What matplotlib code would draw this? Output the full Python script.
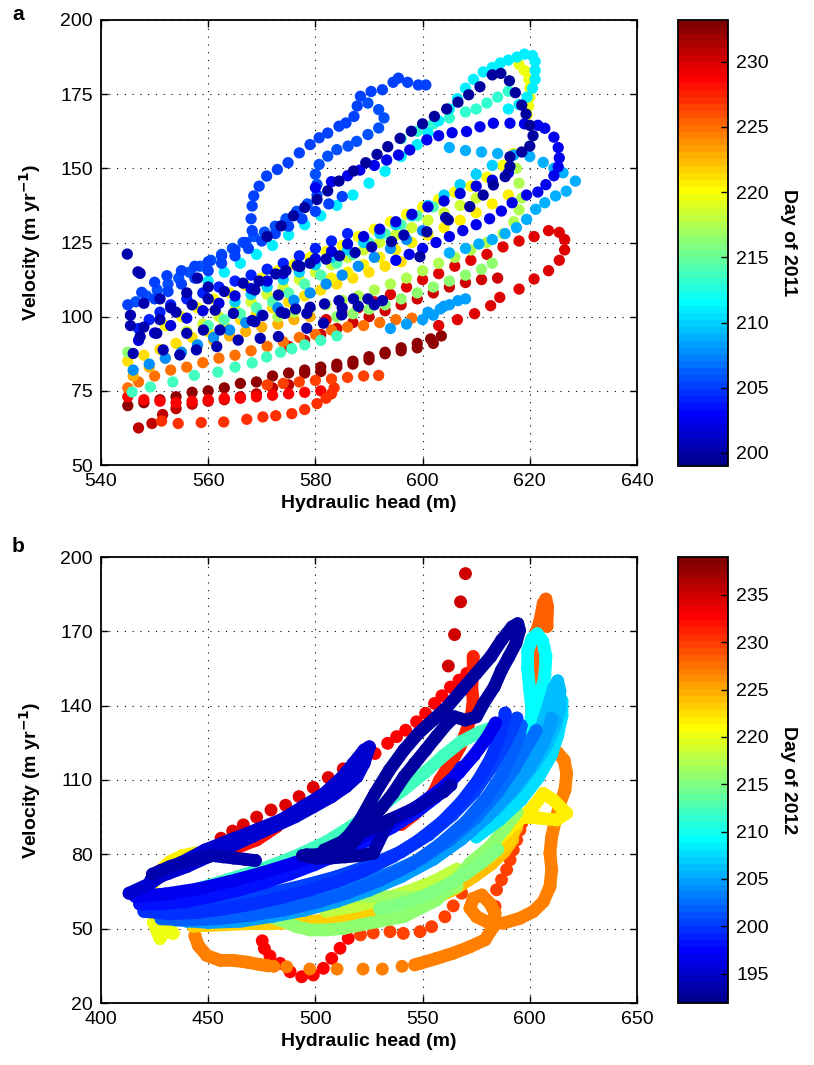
import matplotlib
matplotlib.use('Agg')
import matplotlib.pyplot as plt
import numpy as np
from matplotlib.colors import ListedColormap, Normalize
from matplotlib.cm import ScalarMappable

plt.rcParams['font.family'] = ['Liberation Sans', 'DejaVu Sans']

# ---------------- Panel a (2011) ----------------
a_xticks = [540, 560, 580, 600, 620, 640]
a_yticks = [50, 75, 100, 125, 150, 175, 200]
a_cticks = [200, 205, 210, 215, 220, 225, 230]
a_clim = (199.0, 233.2)

a_darkred = [(545,70),(548,71),(551,72),(554,73),(557,74.5),(560,75),(563,76),(566,77.5),(569,78),(572,80),
             (575,81),(578,82),(581,83),(584,84),(587,85),(590,86.5),(593,88),(596,89.5),(599,91),(601.5,92.5),
             (603.5,93.5),(602,91),(599,89.5),(596,88.5),(593,87.5),(590,85.5),(587,84),(584,83),(581,81.5),(578,81)]
a_red_low = [(547,62.5),(549.5,64),(551.5,67),(554,69),(557,70.5),(560,71.5),(563,72),(566,73),(569,74),(572,76),(575,77)]
a_orange_row = [(551.3,64.8),(554.4,64),(558.7,64.3),(562.9,64.5),(567.2,65.4),(570.2,66.2),(572.6,66.6),(575.6,67.3),
                (578,68.7),(580.3,70.7),(582,72.5),(583,74),(583.5,76)]
a_orange_back = [(591.8,80.2),(589,80),(586,79.5),(583,79),(580,78.5),(577,78),(574,77.5),(571,77)]
a_redorange = [(545,73),(548,72),(551,71.5),(554,71),(557,71.5),(560,72),(563,72.5),(566,72.5),(569,73),(572,73.5),
               (575,74),(578,74.5),(581,75)]
a_orange_band = [(545,76),(547,78),(550,80),(553,82),(556,83),(559,84.5),(562,86),(565,87),(568,88.5),(571,90),(574,91.5),
                 (577,93),(580,94),(583,95.5),(586,96.5),(589,97),(592,98),(595,99),(598,99.5)]
a_yorange = [(546,80),(549,83),(552,86),(555,88),(558,90),(561,92),(564,93.5),(567,95),(570,96.5),(573,97.5),(576,99),(579,100)]
a_yellow1 = [(552,97),(555,100),(558,103),(561,106),(564,108),(567,110.5),(570,113),(573,115.5),(576,117.5),(579,120),
             (582,122),(585,124),(588,127),(591,129.5),(594,132),(597,134.5),(600,137),(603,139.5),(606,142),(609,144),
             (612,147),(615,151),(617,155)]
a_yellow2 = [(619.5,168),(619.8,171),(620,174),(620,177),(619.8,180),(619,183),(618,185)]
a_yellow3 = [(545,85),(548,87),(551,89),(554,91),(557,93),(560,95),(563,97),(566,99),(569,101),(572,103),(575,105),
             (578,107),(581,109),(584,111),(587,113),(590,115),(593,117),(596,118.5)]
a_yellow4 = [(583,113),(586,115),(589,117.5),(592,120),(595,122.5),(598,125),(601,127.5),(604,130),(607,132.5),(610,135),
             (613,138),(616,141)]
a_ygreen = [(556,95),(559,97.5),(562,100),(565,102.5),(568,105),(571,107.5),(574,110),(577,112.5),(580,115),(583,117.5),
            (586,120),(589,122.5),(592,125),(595,127.5),(598,130),(601,132.5),(604,135),(607,137.5),(610,140)]
a_green1 = [(573,100),(576,101.5),(579,103),(582,104),(585,105.5),(588,107),(591,109),(594,111),(597,113),(600,115.5),
            (603,118),(606,120),(609,122.5),(612,125),(615,128),(617,132),(618,136),(618.5,140),(618,145),(617.5,150)]
a_green2 = [(545,88),(584,100),(587,101),(590,102.5),(593,104),(596,106),(599,108),(602,110),(605,112),(608,114),(611,116),(613,118)]
a_aqua1 = [(545.8,74.6),(549.2,76.3),(553.4,78),(557.4,80.2),(561.8,81.3),(565,83),(568.2,84.4),(570.9,86.4),(573.5,88),
           (575.6,89.2),(578,90.5),(581,92),(584,93.5)]
a_aqua2 = [(560,97),(563,99),(566,101),(569,103),(572,105),(575,108),(578,111),(581,114),(584,118),(587,121),(590,125),
           (593,128),(596,131),(599,134),(602,137)]
a_aqua3 = [(596,160),(599,162.5),(602,165),(605,167),(608,169),(610,170),(612,172),(614,174),(616,176)]
a_cyan = [(560,112),(563,115),(566,118),(569,121),(572,124),(575,127.5),(578,131),(581,134),(584,137.5),(587,141),(590,145),
          (593,149),(596,154),(599,158),(601,162),(603,166),(605,170),(606.5,173.5),(608,177),(609.5,180),(611.3,182.5),
          (613,184),(614.5,185.5),(616,186.5),(617.6,187.5),(619,188.5),(620.5,188),(621,186),(621,183),(621,180),
          (620.5,177),(619.5,174),(618,171.5),(616,170)]
a_cyan_mid = [(565,105),(568,107.5),(571,110),(574,112.5),(577,115),(580,117.5),(583,120),(586,122.5),(589,125),(592,128),
              (595,131),(598,134),(601,137.5),(604,141),(607,144.5),(610,148),(613,151)]
a_lblue1 = [(605,157),(608,156),(611,155.5),(614,155),(617,154.5),(620,154),(622.5,152),(624.5,150),(626.2,148.5),
            (628.5,145.7),(626.8,142.3),(624.8,140.7),(622.8,138.4),(621.1,136.2),(619.4,132.8),(617.5,130),(615.4,128),
            (613,126),(610.5,124.5),(608,123),(605,121.5)]
a_lblue2 = [(594,96),(597,97.5),(600,99),(602,100.5),(603.3,102.6),(605,104),(606.6,105.4),(608,106),(604,103.5),(601,101.5)]
a_lblue3 = [(546,82),(549,84),(552,86),(555,88),(558,90.5),(561,93),(564,95.5),(567,98),(570,100.5),(573,103),(576,105.5),
            (579,108),(582,111),(585,114),(588,117),(591,120),(594,123),(597,126),(600,129)]
a_blue_loop = [(580,143.5),(583,145.5),(586,147.5),(588.3,149.4),(591,151),(593.3,152.8),(595.5,154.5),(597.6,156.2),
               (600.8,159.6),(603,161),(605.5,162),(608.2,162.4),(610.7,164),(613.2,165.2),(616.3,165.2),(619,165),
               (621.5,164.5),(622.8,163.5),(624.5,160.5),(625.3,157),(625.5,153.5),(625.3,150.5),(624.5,147.5),(623,144.5),
               (621.5,142),(619.4,141),(616.7,138.4),(614.7,135.6),(612.5,133),(610,131),(607.5,129),(605,127),(602.5,125),
               (600,123),(597.5,121),(595,119)]
a_blue_row = [(547,92),(550,94.5),(553,97),(556,99.5),(559,102),(562,104.5),(565,107),(568,109.5),(571,112),(574,114.5),
              (577,117),(580,119.5),(583,122),(586,124.5),(589,127),(592,129.5),(595,132),(598,134.5),(601,137),(604,139),
              (607,141.5),(610,144),(613,146),(616,148.5)]
a_mblue_outer = [(545,104),(547.6,108.2),(550,111.6),(552.3,113.8),(555,115.5),(557.5,117),(560,118.5),(562.5,120.5),
                 (565,122.5),(567,125),(568.2,129),(568,133),(568.2,137.3),(568.5,140.7),(569.5,144),(570.9,147.4),
                 (572.9,149.6),(574.9,151.9),(577,155.2),(579,158),(580.7,160.3),(582.3,161.9),(584.4,164.2),(585.7,165.3),
                 (587.2,167.5),(587.8,171),(588.4,174.3),(590.4,175.9),(592.5,176.5),(594.5,179),(595.5,180.4),(597.2,179),
                 (599.2,178.1),(600.6,178.1)]
a_mblue_s = [(589.8,172),(591.8,169.8),(592.8,167),(591.8,163.6),(589.8,161.4),(587.7,159.1),(586.1,157.5),(584,156.3),
             (582.3,154.1),(580.7,151.3),(580,148),(580.3,144.6),(580.3,141),(578.5,138),(576.5,135.5),(574.5,133),
             (572.5,130.5),(570.5,128.5),(568.5,127),(566.5,125),(564.5,123),(562.5,121),(560.5,119),(558.5,117),
             (556.5,115),(554.5,113),(552.5,111),(550.5,109),(548.5,107),(546.5,105)]
a_mblue_par = [(550,106),(552.5,108.5),(555,111),(557.5,113),(560,115.5),(562.5,118),(565,120.5),(567.5,123),(570,125.5),
               (572.5,128),(575,130.5),(577.5,133),(580,135.5),(582.5,138),(585,140.5)]
a_mblue_band = [(547,96),(549,99),(551,101.5),(553,104),(556,106),(559,108),(562,110),(565,112),(568,114),(571,116),
                (574,118),(577,120.5),(580,123),(583,125.5),(586,128)]
a_navy_diag = [(571,127),(573.6,130.6),(575.9,134),(578,136.8),(580.3,139.5),(582.3,142.4),(584.4,145.7),(587.1,149.1),
               (589.4,151.9),(591.5,154.7),(593.5,157.3),(595.8,160.1),(597.9,162.5),(600,165),(602.2,167.5),(604.5,170),
               (606.6,172.3),(608.6,174.8),(610.7,177.5),(613,181.5),(614.6,182),(616.2,179.5),(617.3,175.5),(618.5,171.3),
               (619.3,168.3),(620,164.5),(620.6,161),(620,157.5),(618.5,155.5),(616.3,153.9),(616.3,150.6),(615.4,147.2),
               (613.2,144.4),(611.3,141),(608.8,137.1),(604.8,132.6),(600.8,128.6),(599.5,120.2),(594.2,125.3)]
a_navy_row = [(568.2,98.7),(570.2,100.4),(573.6,101.5),(576.3,102.6),(579,103.2),(581.7,104.3),(584.4,105.4),(587.1,106),
              (589.8,106),(592.5,105.4),(591,104),(588,103.5),(585,103)]
a_navy_sparse = [(604.3,133.4),(596.5,127.5),(590.5,123.5),(587.4,121.6),(584.5,120.5),(582,119.4),(579,118),(576.6,117.2),
                 (574.5,115.5),(572.6,114.4),(569.5,112),(563,108.5),(560,106),(557,104),(554,101.5),(551,99),(548,96.5)]
a_navy_cluster = [(547.3,114.6),(546,87.6),(547.3,93.3),(550.4,94.4),(551.6,88.8),(554.7,87.1),(556,94.4),(557.8,88.8),
                  (559.1,95.5),(561.3,102.2),(561.6,89.9),(562.2,95.5),(564.7,101.1),(565.6,92.1),(566.5,111.3),(568.7,109),
                  (569.7,92.7),(568.7,98.3),(573.1,93.3),(573.1,107.3),(574.3,101.1),(577.1,116.9),(578.4,101.1),
                  (578.4,96.1),(581.5,97.8),(584.9,100.6),(544.9,121.1),(546.9,115.1),(545.5,97),(545.5,100.5),
                  (548,104.5),(551,106),(553,103),(556,108),(558,113),(560,110)]
a_red_loop = [(582,99),(585,101),(588,103),(591,105),(594,107.5),(597,110),(600,112.5),(603,114.5),(606,117),(609,119),
              (612,121),(615,123.5),(618,125.5),(620.8,127),(623.5,129),(625.5,128.4),(626.5,126),(626.5,122.5),
              (625.5,119),(623.5,115.5),(620.8,112.7),(618,109.3),(614.4,106.5),(612.7,103.7),(609.7,101),(606.5,99),(603,97)]
a_red_band = [(575,90),(578,92),(581,94),(584,96),(587,98),(590,100),(593,102),(596,104),(599,106),(602,108),(605,110),
              (608,111.5),(611,112.5),(614,113)]

a_tracks = [
    (a_darkred, 232.5), (a_red_low, 231.0), (a_orange_row, 226.8), (a_orange_back, 226.5), (a_redorange, 228.5),
    (a_orange_band, 225.0), (a_yorange, 223.0), (a_yellow1, 220.0), (a_yellow2, 219.5), (a_yellow3, 221.0),
    (a_yellow4, 220.5), (a_ygreen, 218.5), (a_green1, 217.5), (a_green2, 216.5), (a_aqua1, 213.5), (a_aqua2, 214.0),
    (a_aqua3, 213.0), (a_cyan, 211.0), (a_cyan_mid, 210.0), (a_lblue1, 209.0), (a_lblue2, 208.5), (a_lblue3, 208.0),
    (a_blue_loop, 202.5), (a_blue_row, 202.0), (a_mblue_outer, 205.0), (a_mblue_s, 205.5), (a_mblue_par, 205.2),
    (a_mblue_band, 204.0), (a_navy_diag, 200.0), (a_navy_row, 200.3), (a_navy_sparse, 200.5), (a_navy_cluster, 200.2),
    (a_red_loop, 229.5), (a_red_band, 230.0),
]

# ---------------- Panel b (2012) ----------------
b_xticks = [400, 450, 500, 550, 600, 650]
b_yticks = [20, 50, 80, 110, 140, 170, 200]
b_cticks = [195, 200, 205, 210, 215, 220, 225, 230, 235]
b_clim = (191.9, 239.0)

b_navy_loop = [(495.8,79.8),(500.8,79.8),(509.2,80.4),(516,83.1),(521,88.5),(526.1,93.9),(531.2,99.2),(536.2,104.6),
               (541.3,111.3),(546.3,116.7),(551.4,122.1),(556.4,127.5),(561.5,132.8),(564.9,135.5),(569.9,134.2),
               (575,135.5),(578.4,140.9),(583.4,147.6),(586.8,154.3),(590.2,159.7),(593.5,165.1),(595.2,170.4),
               (594.4,173.1),(591.8,171.8),(586.8,166.4),(581.7,159.7),(575,153),(568.2,146.3),(561.5,139.5),
               (554.8,134.2),(548,128.8),(541.3,122.1),(534.5,114),(527.8,104.6),(521,94),(516,88),(510,83),(503,80.5)]
b_navy_line2 = [(527,80.5),(534.5,93.9),(544.6,97.9),(553.1,101.9),(559.8,105.3),(563.2,108)]
b_navy_line3 = [(504.2,81.8),(514.3,85.8),(524.4,89.8),(534.5,93.9)]
b_navy_blob = [(494,79.5),(500,78.5),(507,78.5),(514,79),(521,79.5),(527,80.5)]
b_navy_left = [(424,72),(428,73.5),(432,75),(437,76.5),(442,77.5),(447,78.5),(452,79.5),(457,79),(462,78.5),(467,78),(472,77.5)]
b_blue_loop = [(413.1,64.3),(423.3,68.4),(436.8,76.4),(448.6,81.8),(460.4,85.8),(472.2,89.8),(484,93.9),(494.1,99.2),
               (504.2,104.6),(512.6,111.3),(517.7,116.7),(522.7,122.1),(525.2,123.4),(522.7,116.7),(519.4,111.3),
               (514.3,107.3),(507.6,103.3),(499.1,99.2),(490.7,95.2),(480.6,91.2),(470.5,87.2),(460.4,83.1),
               (450.2,79.1),(440.1,75.1),(431.7,72.4),(423.3,69.7)]
b_blue5 = [(416,63),(430,64),(445,66),(460,69),(475,72.5),(490,76.5),(505,81),(520,86),(534,92),(547,99),(558,106),
           (567,113),(574,120),(580,127),(584,133)]
b_blue2 = [(418,60),(428,60),(440,61),(452,63),(464,65.5),(476,68.5),(488,72),(500,76),(512,80.5),(524,85.5),(536,91),
           (547,97),(556,103),(563,109),(568,115)]
b_blue3 = [(420,57),(432,56),(445,56.5),(458,58),(471,60),(484,62.5),(497,65.5),(510,69),(523,73.5),(536,79),(548,85.5),
           (559,93),(568,101),(576,110),(582,119),(586,128),(588,134),(588.5,137)]
b_blue6 = [(422,58),(436,58.5),(450,60),(465,62),(480,64.5),(495,67.5),(510,71),(525,75.5),(540,81),(553,88),(564,96),
           (574,105),(582,115),(588,124),(592,131),(594,135)]
b_blue4 = [(428,54),(440,53.5),(455,54),(470,55.5),(485,57.5),(500,60.5),(515,64.5),(530,69.5),(545,76),(558,84),(570,93),
           (580,103),(587,112),(592,121),(595,128),(596,132)]
b_blue7 = [(430,55),(445,55.5),(460,57),(475,59),(490,61.5),(505,64.5),(520,68),(535,72.5),(550,78.5),(563,86),(575,95),
           (585,105),(593,115),(599,124),(603,130)]
b_lblue1 = [(424,58),(435,53.5),(450,52.5),(465,53),(480,55),(495,57.5),(510,61),(525,65.5),(540,71),(555,78),(568,86),
            (580,95),(591,105),(600,115),(606,124),(609,131),(610,135)]
b_lblue3 = [(440,53),(455,54),(470,56),(485,58.5),(500,61.5),(515,65),(530,69.5),(545,75),(559,82),(572,90.5),(584,100),
            (594,110),(602,120),(608,128),(612,134)]
b_lblue2 = [(560,84),(572,90),(584,98),(594,107),(602,116),(608,124),(612,132),(614,139),(614,146),(613,150),(611,147),
            (608,138),(604,128),(598,118),(590,108)]
b_lblue4 = [(575,87),(586,94),(596,102),(604,111),(610,120),(613,128),(615,136),(615,142)]
b_cyan = [(556,82),(566,88),(576,95),(585,103),(592,112),(597,121),(600,130),(601,138),(600,146),(599,155),(599,162),
          (601,167),(603.5,169),(606,166),(607.5,160),(607,152),(605,145),(604,138)]
b_aqua = [(432,63),(445,66),(460,70),(475,74),(490,79),(505,85),(518,92),(530,99),(541,106),(551,113),(560,120),
          (568,125.5),(577,129.5),(585,132)]
b_green1 = [(478,55),(483.5,53.5),(491.3,50.8),(497.5,49.5),(505.3,49.5),(513,50.1),(520.8,51.5),(528.6,52.8),(541,54.8),
            (556.6,61.6),(565.9,69.7),(572.1,76.4),(581.4,83.1),(588,90),(594,97)]
b_green3 = [(530,58),(540,60),(550,63),(560,67),(570,72),(578,77),(585,82)]
b_green2 = [(440,60),(455,62),(470,63),(485,63.5),(500,64),(515,63.5),(530,63),(545,62.5),(556,63),(566,67)]
b_ygreen = [(505,57),(518,59),(530,61.5),(543,65),(555,69),(566,74)]
b_yellow_left = [(424.4,52.7),(427.5,46),(430,49),(433.7,48.1),(428,56),(432,60),(426,62)]
b_gold_left = [(424,68),(427,73),(432,77),(438,79.5),(444,80.5),(450,80)]
b_gold_right = [(583,84),(590,90),(597,95.2),(601.6,99.2),(606.3,104.6),(611,101.9),(617.2,96.6),(612.5,93.9),(604.7,94.6),(598,95)]
b_yorange = [(443,51),(455,51.5),(468,52),(480,52),(492,52.5),(505,53.5),(518,55.5),(530,58.5),(542,62),(553,66),
             (564.3,69.7),(575.2,75.1),(584.5,80.5),(590.8,85.8),(593.9,91.1)]
b_yorange2 = [(555,62),(565,66),(574,71),(582,76),(588,81),(592,86)]
b_orange_a = [(443.8,47.2),(445.4,43.2),(449.3,39.2),(455.5,37.2),(461.7,37.2),(468,36.5),(474.2,35.5),(478,35)]
b_orange_dots = [(480.6,34.8),(486.6,34.6),(497.4,33.7),(510.1,33.7),(522.2,33.7),(531.2,33.7),(540.4,34.8)]
b_orange_b = [(546.3,35.4),(548.8,36),(556.6,38),(564.3,40.1),(572.1,42.7),(579.1,45.5),(583,50.8),(583.8,56.2),
              (581.4,60.2),(577.6,63.6),(573.6,62.2),(572.1,58.2),(575.2,54.8),(579.9,52.8),(587.6,52.2),(595.4,54.2),
              (601.6,56.9),(606.3,60.9),(609.4,67),(610.2,73.8),(609.4,80.5),(610.2,87.1),(612,93.9),(614.1,100.6),
              (616.4,106),(617.2,112.7),(616,118),(613,121)]
b_orange_spike = [(601.5,125),(601,133),(600.9,142.2),(600.9,150),(601.5,158),(602.4,167.9),(604.8,174.6),(606.3,181.3),
                  (607.5,183),(608.3,180),(608,172)]
b_redorange_dots = [(521,47.5),(527,48.3),(534.8,48.8),(541,48.1),(548.8,48.8),(554.2,50.8),(560.4,54.8),(564.3,59.2),
                    (568.2,64.3),(583.8,59),(584.5,65.7),(586.8,69.7),(589.2,73.8),(590.8,77.8),(592.3,81.8),(593.9,85.8),
                    (595.4,89.8),(596.2,92.5)]
b_red_dip = [(475.2,45.1),(476.2,42),(478.8,39),(483.5,36),(488.2,32.6),(493.6,30.6),(499,31.3),(503.7,34),(507.6,38),
             (511.5,42.1),(515.3,46.1)]
b_darkred_dots = [(456,86.5),(461.4,89.4),(466.4,91.9),(472.6,95),(479.3,97.9),(486.1,99.8),(492.4,103.3),(499,107),
                  (506,111),(513,114.5),(520,117.5)]
b_red_dots = [(527.8,120.7),(533.7,124.8),(537.9,127.5),(542.1,130.1),(547.2,133.5),(551.4,136.9),(555.6,140.9),
              (559,144),(563,147.5),(567,150.3),(570.6,153)]
b_red_top = [(562,156),(564.9,168.7),(567.7,181.9),(570,193.3)]
b_red_thick = [(540,92),(546,96),(551,100),(555,104.6),(558,110),(561,114),(564,118),(567.4,123.4),(570.6,130.1),
               (572.9,136.8),(573.6,142.2),(572.9,147.6),(573.6,154.4),(573.6,159.8)]
b_red_left = [(462,82),(467,84),(472.6,85.8),(477.3,88.5),(481.9,91.2)]
b_red_low = [(513,52),(520,52.5),(528,53)]

# (points, day, drawn as continuous band?)
b_tracks = [
    (b_navy_loop, 193.0, True), (b_navy_line2, 193.4, True), (b_navy_line3, 193.3, True), (b_navy_blob, 193.2, True),
    (b_navy_left, 193.5, True), (b_blue_loop, 195.0, True), (b_blue5, 197.0, True), (b_blue2, 198.0, True),
    (b_blue3, 199.5, True), (b_blue6, 200.0, True), (b_blue4, 201.5, True), (b_blue7, 202.5, True),
    (b_lblue1, 204.5, True), (b_lblue3, 205.5, True), (b_lblue2, 206.5, True), (b_lblue4, 207.5, True),
    (b_cyan, 209.0, True), (b_aqua, 212.0, True), (b_green1, 215.5, True), (b_green3, 215.0, True),
    (b_green2, 216.5, True), (b_ygreen, 218.0, True), (b_yellow_left, 220.0, True),
    (b_gold_left, 222.0, True), (b_gold_right, 222.0, True), (b_yorange, 223.5, True), (b_yorange2, 224.0, True),
    (b_orange_a, 226.5, True), (b_orange_dots, 226.5, False), (b_orange_b, 226.5, True), (b_orange_spike, 228.0, True),
    (b_redorange_dots, 229.5, False), (b_red_dip, 233.0, False), (b_darkred_dots, 234.5, False),
    (b_red_dots, 233.0, False), (b_red_top, 235.0, False), (b_red_thick, 231.5, True), (b_red_left, 232.0, True),
    (b_red_low, 232.0, True),
]


def matlab_jet(m=64):
    n = int(np.ceil(m / 4))
    u = np.concatenate([np.arange(1, n + 1) / n, np.ones(n - 1), np.arange(n, 0, -1) / n])
    g = int(np.ceil(n / 2)) - (1 if m % 4 == 1 else 0) + np.arange(1, len(u) + 1)
    r = g + n
    b = g - n
    J = np.zeros((m, 3))
    for idx, col in ((r, 0), (g, 1), (b, 2)):
        ok = (idx >= 1) & (idx <= m)
        J[idx[ok] - 1, col] = u[ok]
    return J


cmap = ListedColormap(matlab_jet(64))

W, H = 814, 1065
fig = plt.figure(figsize=(W / 100, H / 100), dpi=100)
axA = fig.add_axes([101 / W, (H - 465) / H, 536 / W, 445 / H])
caxA = fig.add_axes([678 / W, (H - 466) / H, 50 / W, 446 / H])
axB = fig.add_axes([101 / W, (H - 1003) / H, 536 / W, 446 / H])
caxB = fig.add_axes([678 / W, (H - 1003) / H, 50 / W, 446 / H])

normA = Normalize(*a_clim)
normB = Normalize(*b_clim)

z = 2
for pts, day in sorted(a_tracks, key=lambda t: -t[1]):
    xs = [p[0] for p in pts]
    ys = [p[1] for p in pts]
    axA.scatter(xs, ys, s=66, color=cmap(normA(day)), edgecolors='none', zorder=z)
    z += 1

z = 2
for pts, day, band in sorted(b_tracks, key=lambda t: -t[1]):
    xs = [p[0] for p in pts]
    ys = [p[1] for p in pts]
    col = cmap(normB(day))
    if band:
        axB.plot(xs, ys, color=col, lw=9.2, solid_capstyle='round', solid_joinstyle='round', zorder=z)
    axB.scatter(xs, ys, s=86, color=col, edgecolors='none', zorder=z + 0.5)
    z += 1


def style(ax, xt, yt):
    ax.set_xlim(xt[0], xt[-1])
    ax.set_ylim(yt[0], yt[-1])
    ax.set_xticks(xt)
    ax.set_yticks(yt)
    ax.tick_params(direction='in', top=True, right=True, length=5, width=1, labelsize=14, pad=6)
    ax.grid(True, linestyle=(0, (1, 6)), color='k', lw=0.8)
    ax.set_axisbelow(True)
    for sp in ax.spines.values():
        sp.set_linewidth(1.3)
    ax.set_xlabel('Hydraulic head (m)', fontsize=14, fontweight='bold', labelpad=3)
    ax.set_ylabel(r'Velocity (m yr$^{\mathbf{-1}}$)', fontsize=14, fontweight='bold', labelpad=12)


style(axA, a_xticks, a_yticks)
style(axB, b_xticks, b_yticks)

for cax, norm, ticks, label in ((caxA, normA, a_cticks, 'Day of 2011'), (caxB, normB, b_cticks, 'Day of 2012')):
    cb = fig.colorbar(ScalarMappable(norm=norm, cmap=cmap), cax=cax, ticks=ticks)
    cb.ax.tick_params(direction='in', length=5, width=1, labelsize=14, pad=6)
    cb.outline.set_linewidth(1.3)
    cb.set_label(label, rotation=270, fontsize=14, fontweight='bold', labelpad=20)

fig.text(12 / W, 1 - 15 / H, 'a', fontsize=15, fontweight='bold', va='center')
fig.text(12 / W, 1 - 547 / H, 'b', fontsize=15, fontweight='bold', va='center')

fig.savefig('out.png', dpi=100)
